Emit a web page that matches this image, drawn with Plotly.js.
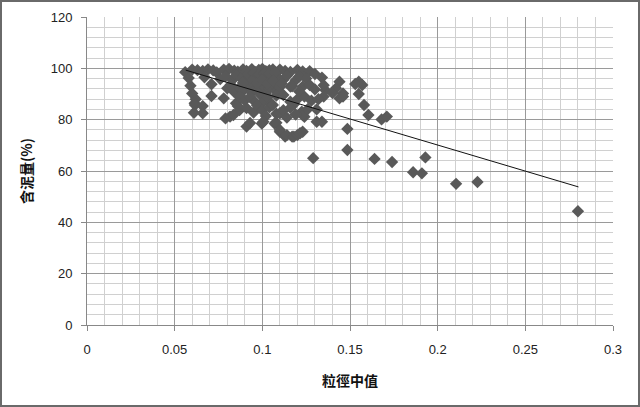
<!DOCTYPE html>
<html>
<head>
<meta charset="utf-8">
<script src="https://cdn.plot.ly/plotly-3.0.1.min.js"></script>
<style>
  html, body { margin: 0; padding: 0; background: #fff; }
  #wrap { position: relative; width: 640px; height: 407px; }
  #chart { width: 640px; height: 407px; }
  #frame { position: absolute; left: 0; top: 0; width: 636px; height: 403px; border: 2px solid #6a6a6a; pointer-events: none; }
</style>
</head>
<body>
<div id="wrap"><div id="chart"></div><div id="frame"></div></div>
<script>
// Median grain size (粒徑中值)
const grainSize = [
  0.056,0.060,0.063,0.066,0.069,0.072,0.074,0.078,0.081,0.084,0.086,0.089,0.091,0.094,0.096,0.098,0.100,0.102,0.104,0.106,0.108,0.110,0.113,0.116,0.120,0.123,0.127,0.130,
  0.058,0.067,0.076,0.079,0.083,0.085,0.088,0.090,0.093,0.095,0.097,0.099,0.101,0.103,0.105,0.107,0.109,0.112,0.114,0.119,0.121,0.125,0.134,0.144,0.155,0.153,
  0.059,0.071,0.080,0.082,0.084,0.087,0.089,0.092,0.094,0.096,0.098,0.100,0.102,0.104,0.106,0.108,0.110,0.116,0.123,0.127,0.130,0.136,0.135,0.142,0.146,0.157,0.155,
  0.060,0.062,0.071,0.078,0.085,0.087,0.090,0.093,0.096,0.099,0.101,0.103,0.105,0.108,0.112,0.116,0.118,0.1205,0.124,0.128,0.135,0.144,0.146,0.140,0.132,
  0.0614,0.0616,0.066,0.061,0.066,0.079,0.0816,0.0835,0.087,0.086,0.091,0.095,0.097,0.100,0.102,0.104,0.106,0.108,0.110,0.112,0.114,0.116,0.1225,0.124,0.123,0.126,0.119,0.131,0.158,0.1605,0.168,0.171,
  0.091,0.093,0.0997,0.1006,0.107,0.108,0.110,0.110,0.113,0.114,0.117,0.118,0.120,0.1215,0.123,0.131,0.134,0.1485,0.1485,0.129,0.164,0.174,0.193,0.186,0.191,0.2105,0.2227,0.280,
  0.092,0.095,0.098,0.101,0.104,0.107,0.094,0.097,0.100,0.103,0.106,0.089,0.111,0.117,0.121
];
// Mud content (含泥量, %)
const mudContent = [
  98.5,99.5,99.3,99.0,99.6,99.2,98.4,99.5,99.8,99.1,98.7,99.6,99.0,99.7,98.5,99.4,99.8,98.9,99.3,99.6,98.2,99.5,99.0,98.6,99.4,98.8,98.9,97.8,
  96.2,96.5,95.8,96.9,95.5,97.2,96.0,94.6,96.8,95.3,97.0,94.8,96.4,95.1,97.3,94.9,96.2,95.6,97.1,95.4,96.8,96.0,96.4,94.8,94.8,93.9,
  93.2,93.8,92.2,93.6,90.8,92.5,91.2,93.4,90.6,92.8,91.5,93.7,90.3,92.1,94.0,91.0,92.7,92.9,92.9,93.5,91.8,91.5,93.4,92.2,90.2,93.5,90.0,
  90.2,88.0,89.2,88.3,86.4,89.0,87.5,88.8,86.8,89.6,87.2,88.6,86.1,89.4,89.6,87.0,86.0,88.3,89.0,87.4,89.0,88.3,89.0,90.4,88.0,
  86.4,85.7,85.3,82.7,82.5,80.5,81.2,81.8,83.7,85.3,84.5,82.8,85.6,83.6,81.4,84.8,85.7,82.3,82.5,83.7,80.8,84.6,83.1,81.1,81.8,84.2,82.0,84.0,85.7,81.8,80.1,81.2,
  77.3,78.7,78.5,79.2,78.5,78.8,75.3,76.0,73.4,74.0,73.4,73.4,74.0,74.7,75.3,79.2,79.2,76.4,68.2,65.0,64.7,63.5,65.3,59.5,59.1,55.0,55.7,44.3,
  97.8,98.2,97.6,98.0,97.9,98.4,95.0,94.2,95.6,94.0,95.2,94.4,94.1,93.0,91.0
];
// Linear trendline endpoints
const trendX = [0.0563, 0.2803];
const trendY = [99.3, 53.8];

const xTickVals = [0, 0.05, 0.1, 0.15, 0.2, 0.25, 0.3];
const xTickText = ['0', '0.05', '0.1', '0.15', '0.2', '0.25', '0.3'];
const yTickVals = [0, 20, 40, 60, 80, 100, 120];

const tickFont = { family: 'Liberation Sans, Arial, sans-serif', size: 13, color: '#222' };
const cjk = 'Noto Sans CJK TC, Noto Sans CJK SC, sans-serif';

const traces = [
  {
    x: grainSize, y: mudContent, type: 'scatter', mode: 'markers',
    marker: { symbol: 'diamond', size: 9.5, color: '#595959', line: { width: 0 } },
    hoverinfo: 'x+y', showlegend: false
  },
  {
    x: trendX, y: trendY, type: 'scatter', mode: 'lines',
    line: { color: '#111', width: 1 }, showlegend: false
  }
];

const layout = {
  width: 640, height: 407,
  margin: { l: 87, r: 27, t: 17, b: 82 },
  paper_bgcolor: '#fff', plot_bgcolor: '#fff',
  showlegend: false,
  xaxis: {
    range: [0, 0.3], tickvals: xTickVals, ticktext: xTickText,
    tickfont: tickFont, ticks: 'outside', ticklen: 5, tickcolor: '#888',
    ticklabelstandoff: 7,
    showgrid: true, gridcolor: '#9a9a9a', gridwidth: 1,
    minor: { dtick: 0.01, showgrid: true, gridcolor: '#d0d0d0', gridwidth: 1, ticks: '' },
    showline: true, linecolor: '#888', linewidth: 1, zeroline: false,
    title: { text: '粒徑中值', font: { family: cjk, size: 14, color: '#111', weight: 'bold' }, standoff: 20 }
  },
  yaxis: {
    range: [0, 120], tickvals: yTickVals,
    tickfont: tickFont, ticks: 'outside', ticklen: 5, tickcolor: '#888',
    ticklabelstandoff: 6,
    showgrid: true, gridcolor: '#9a9a9a', gridwidth: 1,
    minor: { dtick: 4, showgrid: true, gridcolor: '#d0d0d0', gridwidth: 1, ticks: '' },
    showline: true, linecolor: '#888', linewidth: 1, zeroline: false,
    title: { text: '含泥量(%)', font: { family: cjk, size: 14, color: '#111', weight: 'bold' }, standoff: 14 }
  }
};

Plotly.newPlot('chart', traces, layout, { displayModeBar: false, staticPlot: true });
</script>
</body>
</html>
